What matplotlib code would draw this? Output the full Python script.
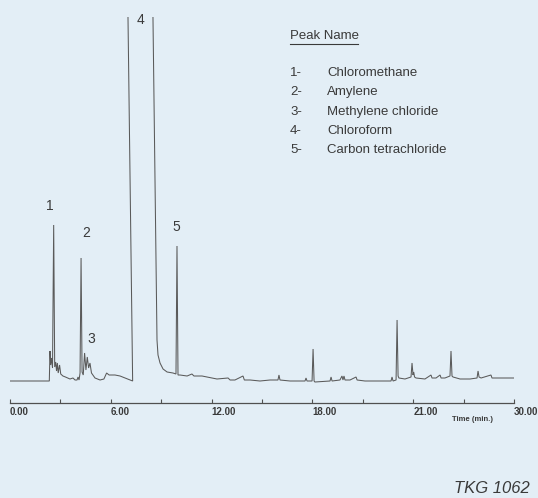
import matplotlib
matplotlib.use("Agg")
import matplotlib.pyplot as plt
from matplotlib.lines import Line2D

plt.rcParams['font.family'] = ['Liberation Sans', 'DejaVu Sans']

# ---- data: chromatogram trace (time units, response) ----
time = [0.00, 1.20, 2.26, 2.34, 2.38, 2.42, 2.47, 2.53, 2.60, 2.66, 2.72, 2.77,
        2.82, 2.87, 2.95, 3.02, 3.15, 3.30, 3.57, 3.75, 3.87, 3.99, 4.05, 4.11,
        4.17, 4.23, 4.29, 4.36, 4.44, 4.52, 4.60, 4.68, 4.76, 4.85, 5.06, 5.36,
        5.59, 5.75, 5.90, 6.25, 6.55, 6.85, 7.14, 7.30, 7.02, 7.00, 8.53, 8.51,
        8.75, 8.81, 8.93, 9.11, 9.35, 9.70, 9.88, 9.94, 10.00, 10.12, 10.54,
        10.83, 10.95, 11.43, 12.32, 12.98, 13.10, 13.39, 13.87, 13.95, 14.29,
        14.88, 15.48, 15.95, 16.01, 16.07, 16.67, 17.56, 17.62, 17.68, 17.98,
        18.04, 18.10, 18.15, 19.05, 19.11, 19.17, 19.64, 19.76, 19.82, 19.88,
        19.94, 20.24, 20.60, 20.66, 21.13, 22.02, 22.68, 22.74, 22.80, 22.98,
        23.04, 23.10, 23.15, 23.51, 23.87, 23.93, 23.99, 24.03, 24.08, 24.17,
        24.70, 25.06, 25.12, 25.36, 25.60, 25.66, 25.89, 26.19, 26.25, 26.31,
        26.37, 26.79, 27.38, 27.80, 27.86, 27.92, 28.04, 28.63, 28.69, 28.87,
        30.00]
response = [22, 22, 22, 22, 52, 38, 45, 35, 178, 36, 41, 32,
            40, 30, 38, 29, 27, 26, 24, 25, 23, 23, 26, 23,
            30, 145, 31, 28, 50, 33, 46, 35, 40, 30, 25, 23,
            24, 30, 28, 28, 27, 25, 23, 22, 386, 420, 420, 386,
            63, 48, 40, 34, 31, 30, 29, 157, 28, 28, 27,
            29, 27, 27, 24, 25, 23, 23, 27, 23, 23,
            22, 23, 23, 28, 23, 22, 22, 25, 22, 22,
            54, 22, 21, 22, 26, 22, 23, 27, 23, 27,
            23, 23, 26, 23, 22, 22, 22, 26, 22, 23,
            83, 27, 25, 24, 26, 40, 28, 31, 26, 25,
            24, 28, 25, 25, 28, 25, 25, 27, 52, 27,
            26, 24, 24, 25, 32, 26, 25, 28, 25, 25,
            25]

peak_labels = ["1", "2", "3", "4", "5"]
peak_label_t = [2.38, 4.52, 4.82, 7.74, 9.88]
peak_label_s = [197, 170, 64, 383, 176]

peak_names = ["Chloromethane", "Amylene", "Methylene chloride",
              "Chloroform", "Carbon tetrachloride"]

tick_pos = [0, 6, 12, 18, 24, 30]
tick_labels = ["0.00", "6.00", "12.00", "18.00", "21.00", "30.00"]
minor_pos = [3, 9, 15, 21, 27]

W, H = 538, 498
bg = "#e3eef6"
ink = "#3a3a3a"

fig = plt.figure(figsize=(W / 100, H / 100), dpi=100, facecolor=bg)
ax = fig.add_axes([10 / W, (H - 403) / H, 504 / W, (403 - 17) / H])
ax.patch.set_alpha(0)

ax.plot(time, response, color="#5a5a5a", lw=0.75, solid_joinstyle="miter")
ax.set_xlim(0, 30)
ax.set_ylim(0, 386)

for s in ("left", "top", "right"):
    ax.spines[s].set_visible(False)
ax.spines["bottom"].set_color("#505050")
ax.spines["bottom"].set_linewidth(0.9)
ax.set_yticks([])
ax.set_xticks(tick_pos)
ax.set_xticklabels(tick_labels, ha="left", fontsize=7, fontweight="bold", color=ink)
ax.set_xticks(minor_pos, minor=True)
ax.tick_params(axis="x", which="both", direction="in", length=3, width=0.8,
               color="#505050", pad=3)

for lab, t, s in zip(peak_labels, peak_label_t, peak_label_s):
    ax.text(t, s, lab, ha="center", va="center", fontsize=10, color=ink, clip_on=False)

def fx(px):
    return px / W

def fy(py):
    return 1 - py / H

fig.text(fx(473), fy(419), "Time (min.)", ha="center", va="center",
         fontsize=5.5, fontweight="bold", color=ink)

fig.text(fx(290), fy(36), "Peak Name", ha="left", va="center", fontsize=9.5, color=ink)
fig.add_artist(Line2D([fx(290), fx(358)], [fy(44), fy(44)], color=ink, lw=0.8))

row_y = [73, 92, 112, 131, 150]
for i, (name, y) in enumerate(zip(peak_names, row_y)):
    fig.text(fx(290), fy(y), f"{i + 1}-", ha="left", va="center", fontsize=9.5, color=ink)
    fig.text(fx(327), fy(y), name, ha="left", va="center", fontsize=9.5, color=ink)

fig.text(fx(530), fy(488), "TKG 1062", ha="right", va="center", fontsize=12,
         style="italic", color=ink)

fig.savefig("out.png", dpi=100, facecolor=bg)
